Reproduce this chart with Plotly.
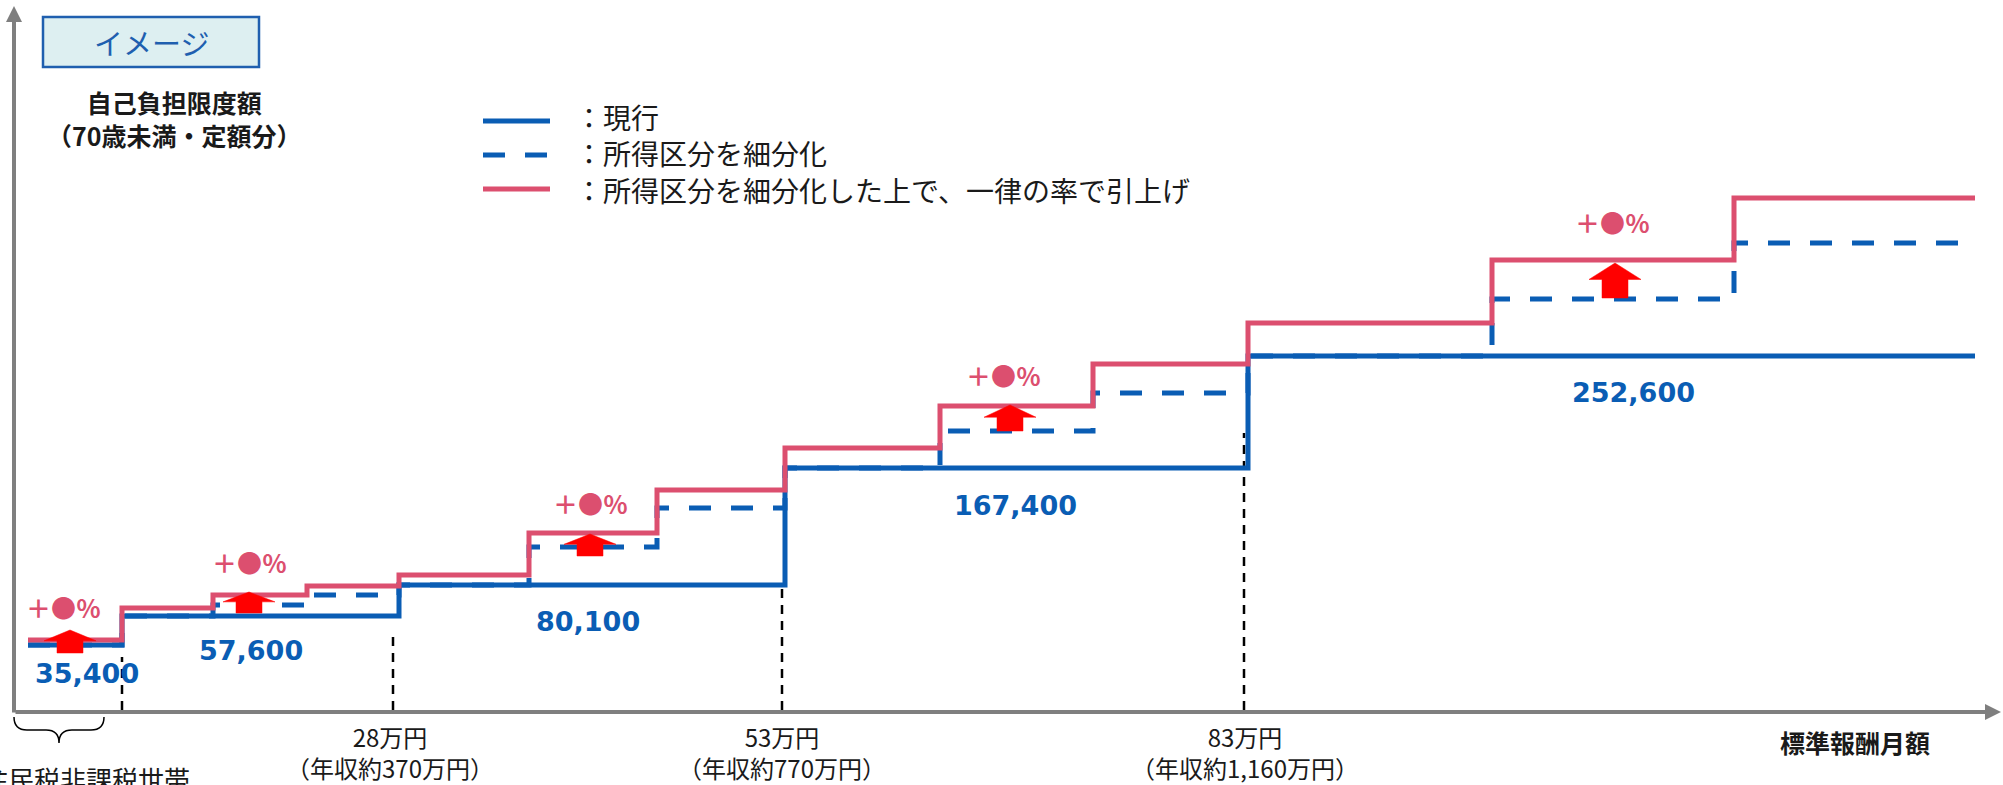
import plotly.graph_objects as go

# ---------------- data (schematic units: x along income, y = burden level) ----------------
breaks = [28, 122, 213, 307, 399, 529, 657, 785, 940, 1093, 1248, 1492, 1734, 1975]
current = [67, 96, 96, 96, 127, 127, 127, 244, 244, 244, 356, 356, 356]
subdivided = [67, 96, 107, 117, 127, 165, 204, 244, 281, 319, 356, 413, 469]
raised = [72, 104, 117, 126, 137, 179, 222, 264, 306, 348, 389, 452, 514]

value_labels = ["35,400", "57,600", "80,100", "167,400", "252,600"]
value_x = [87, 251, 588, 1015, 1633]
value_y = [39, 62, 91, 207, 320]

arrow_x = [70, 249, 590, 1010, 1615]
arrow_y0 = [59, 99, 156, 281, 414]
arrow_y1 = [82, 120, 178, 307, 449]
pct_x = [63, 249, 590, 1003, 1612]
pct_y = [105, 150, 209, 337, 490]

guide_x = [122, 393, 782, 1244]
guide_top = [55, 82, 125, 279]

tick_x = [390, 782, 1245]
tick_main = ["28万円", "53万円", "83万円"]
tick_sub = ["（年収約370万円）", "（年収約770万円）", "（年収約1,160万円）"]

legend_labels = ["：現行", "：所得区分を細分化", "：所得区分を細分化した上で、一律の率で引上げ"]

BLUE = "#0A5DB4"
PINK = "#DC4F6F"
GRAY = "#7F7F7F"
JP = "Noto Sans CJK JP"

W, H = 2003, 785
X0, Y0 = 14, 0          # axis origin
YTOP = 712              # pixel row of the x axis

fig = go.Figure()

# guide dashed lines
for gx, gt in zip(guide_x, guide_top):
    fig.add_trace(go.Scatter(x=[gx, gx], y=[2, gt], mode="lines",
                             line=dict(color="black", width=2.5, dash="9px,7px"),
                             hoverinfo="skip", showlegend=False))

def step(vals):
    return vals + [vals[-1]]

fig.add_trace(go.Scatter(x=breaks, y=step(current), mode="lines", line_shape="hv",
                         line=dict(color=BLUE, width=5), name="現行", showlegend=False))
fig.add_trace(go.Scatter(x=breaks, y=step(subdivided), mode="lines", line_shape="hv",
                         line=dict(color=BLUE, width=5, dash="22px,20px"),
                         name="所得区分を細分化", showlegend=False))
fig.add_trace(go.Scatter(x=breaks, y=step(raised), mode="lines", line_shape="hv",
                         line=dict(color=PINK, width=5),
                         name="所得区分を細分化した上で、一律の率で引上げ", showlegend=False))

# block arrows
for cx, y0, y1 in zip(arrow_x, arrow_y0, arrow_y1):
    h = y1 - y0
    hb = y1 - 0.47 * h
    xs = [cx - 13, cx - 13, cx - 26, cx, cx + 26, cx + 13, cx + 13, cx - 13]
    ys = [y0, hb, hb, y1, hb, hb, y0, y0]
    fig.add_trace(go.Scatter(x=xs, y=ys, mode="lines", fill="toself",
                             fillcolor="#FF0000", line=dict(color="#FF0000", width=0.5),
                             hoverinfo="skip", showlegend=False))

ann = []
for t, x, y in zip(value_labels, value_x, value_y):
    ann.append(dict(x=x, y=y, text=f"<b>{t}</b>", showarrow=False,
                    font=dict(family="DejaVu Sans", size=27, color=BLUE)))
for x, y in zip(pct_x, pct_y):
    ann.append(dict(x=x, y=y, text="<b>＋●％</b>", showarrow=False,
                    font=dict(family=JP, size=25, color=PINK)))
for x, a, b in zip(tick_x, tick_main, tick_sub):
    ann.append(dict(x=x, y=YTOP - 752, text=f"{a}<br>{b}", showarrow=False,
                    font=dict(family=JP, size=24, color="#1a1a1a")))

ann.append(dict(x=1855, y=YTOP - 742, text="<b>標準報酬月額</b>", showarrow=False,
                font=dict(family=JP, size=25, color="#1a1a1a")))
ann.append(dict(x=174, y=YTOP - 118, text="<b>自己負担限度額<br>（70歳未満・定額分）</b>",
                showarrow=False, font=dict(family=JP, size=25, color="#1a1a1a")))
ann.append(dict(x=151, y=YTOP - 42, text="イメージ", showarrow=False,
                font=dict(family=JP, size=29, color="#1F5FAF")))
ann.append(dict(x=86, y=YTOP - 778, text="住民税非課税世帯", showarrow=False,
                font=dict(family=JP, size=26, color="#1a1a1a")))

# axes arrows
ann.append(dict(x=2001, y=Y0, ax=X0, ay=Y0, axref="x", ayref="y", xref="x", yref="y",
                text="", showarrow=True, arrowhead=2, arrowsize=0.8, arrowwidth=4,
                arrowcolor=GRAY))
ann.append(dict(x=X0, y=YTOP - 6, ax=X0, ay=Y0 - 2, axref="x", ayref="y", xref="x", yref="y",
                text="", showarrow=True, arrowhead=2, arrowsize=0.8, arrowwidth=4,
                arrowcolor=GRAY))

# legend (keys as shapes, labels as one multi-line text)
legend_y = [YTOP - 121, YTOP - 155, YTOP - 189]
ann.append(dict(x=573, y=legend_y[1] + 2, text="<br>".join(legend_labels), showarrow=False,
                xanchor="left", align="left", yanchor="middle",
                font=dict(family=JP, size=28, color="#1a1a1a")))

shapes = [
    dict(type="rect", x0=43, x1=259, y0=YTOP - 17, y1=YTOP - 67, xref="x", yref="y",
         fillcolor="#DDEFF1", line=dict(color="#1F5FAF", width=2.5), layer="below"),
    dict(type="line", x0=483, x1=550, y0=legend_y[0], y1=legend_y[0], xref="x", yref="y",
         line=dict(color=BLUE, width=5)),
    dict(type="line", x0=483, x1=550, y0=legend_y[1], y1=legend_y[1], xref="x", yref="y",
         line=dict(color=BLUE, width=5, dash="22px,20px")),
    dict(type="line", x0=483, x1=550, y0=legend_y[2], y1=legend_y[2], xref="x", yref="y",
         line=dict(color=PINK, width=5)),
    dict(type="path", xref="x", yref="y",
         path="M 14,-5 Q 14,-18 27,-18 L 46,-18 Q 59,-18 59,-31 Q 59,-18 72,-18 L 91,-18 Q 104,-18 104,-5",
         line=dict(color="black", width=1.5)),
]

fig.update_layout(
    width=W, height=H, margin=dict(l=0, r=0, t=0, b=0),
    paper_bgcolor="white", plot_bgcolor="white",
    xaxis=dict(range=[0, W], visible=False, fixedrange=True),
    yaxis=dict(range=[YTOP - H, YTOP], visible=False, fixedrange=True),
    annotations=ann, shapes=shapes, showlegend=False,
)

fig.write_html("out.html", config={"displayModeBar": False},
               post_script="document.body.style.margin='0';document.body.style.overflow='hidden';")
